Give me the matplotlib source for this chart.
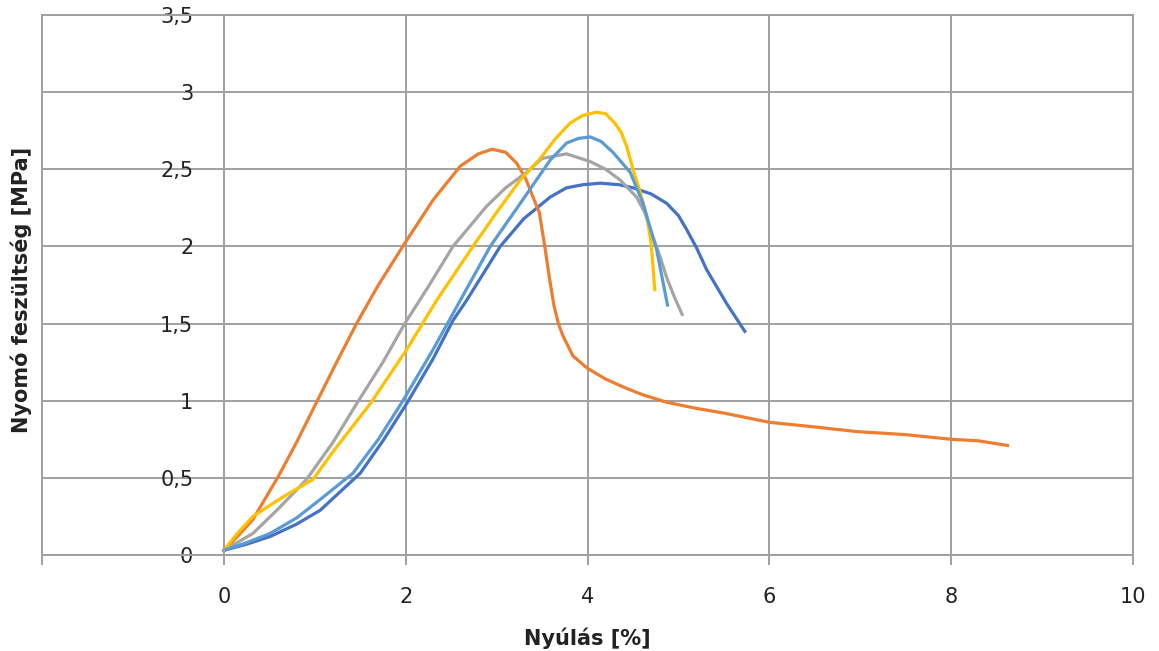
import matplotlib.pyplot as plt

# strain [%] / stress [MPa] curves
x_blue = [0, 0.25, 0.51, 0.8, 1.06, 1.5, 1.75, 2.01, 2.3, 2.52, 2.67, 3.04, 3.3, 3.59, 3.77,
          3.95, 4.14, 4.35, 4.5, 4.7, 4.87, 5.0, 5.09, 5.2, 5.31, 5.42, 5.53, 5.63, 5.73]
y_blue = [0.03, 0.07, 0.12, 0.20, 0.29, 0.53, 0.74, 0.98, 1.27, 1.52, 1.65, 2.0, 2.18, 2.32, 2.38,
          2.40, 2.41, 2.40, 2.38, 2.34, 2.28, 2.20, 2.11, 1.99, 1.85, 1.74, 1.63, 1.54, 1.45]

x_orange = [0, 0.15, 0.32, 0.6, 0.8, 1.02, 1.25, 1.46, 1.7, 1.99, 2.3, 2.6, 2.8, 2.95, 3.1, 3.22,
            3.32, 3.4, 3.47, 3.53, 3.58, 3.63, 3.68, 3.73, 3.84, 4.0, 4.2, 4.39, 4.6, 4.87, 5.2,
            5.5, 6.0, 6.5, 6.96, 7.5, 8.0, 8.3, 8.62]
y_orange = [0.03, 0.12, 0.23, 0.51, 0.73, 0.99, 1.26, 1.50, 1.75, 2.02, 2.30, 2.52, 2.60, 2.63, 2.61, 2.54,
            2.44, 2.32, 2.22, 2.00, 1.80, 1.62, 1.50, 1.42, 1.29, 1.21, 1.14, 1.09, 1.04, 0.99, 0.95,
            0.92, 0.86, 0.83, 0.80, 0.78, 0.75, 0.74, 0.71]

x_gray = [0, 0.32, 0.6, 0.91, 1.2, 1.46, 1.75, 1.99, 2.25, 2.52, 2.89, 3.1, 3.33, 3.5, 3.77,
          4.03, 4.2, 4.36, 4.54, 4.63, 4.72, 4.8, 4.87, 4.95, 5.04]
y_gray = [0.03, 0.14, 0.30, 0.49, 0.73, 0.98, 1.25, 1.50, 1.74, 2.0, 2.26, 2.38, 2.48, 2.57, 2.60,
          2.55, 2.50, 2.43, 2.32, 2.22, 2.06, 1.93, 1.80, 1.68, 1.56]

x_yellow = [0, 0.15, 0.32, 0.5, 0.69, 0.98, 1.24, 1.61, 2.01, 2.34, 2.74, 3.0, 3.26, 3.48, 3.65,
            3.81, 3.95, 4.1, 4.2, 4.3, 4.37, 4.43, 4.5, 4.58, 4.65, 4.7, 4.74]
y_yellow = [0.03, 0.14, 0.25, 0.32, 0.39, 0.49, 0.70, 0.98, 1.33, 1.65, 2.0, 2.22, 2.43, 2.57, 2.70,
            2.80, 2.85, 2.87, 2.86, 2.80, 2.74, 2.65, 2.50, 2.35, 2.20, 2.02, 1.72]

x_lblue = [0, 0.25, 0.51, 0.8, 1.06, 1.42, 1.7, 1.97, 2.3, 2.6, 2.93, 3.25, 3.59, 3.77, 3.9,
           4.03, 4.15, 4.28, 4.47, 4.61, 4.76, 4.88]
y_lblue = [0.03, 0.08, 0.14, 0.24, 0.36, 0.53, 0.75, 1.0, 1.33, 1.65, 2.0, 2.27, 2.56, 2.67, 2.70,
           2.71, 2.68, 2.61, 2.48, 2.28, 1.98, 1.62]

x_ticks = [-2, 0, 2, 4, 6, 8, 10]
x_labels = ["", "0", "2", "4", "6", "8", "10"]
y_ticks = [0, 0.5, 1, 1.5, 2, 2.5, 3, 3.5]
y_labels = ["0", "0,5", "1", "1,5", "2", "2,5", "3", "3,5"]

grid_c = "#a0a0a0"
text_c = "#222222"

fig = plt.figure(figsize=(11.59, 6.51), dpi=100)
ax = fig.add_axes([42 / 1159, 96 / 651, 1091 / 1159, 540 / 651])

ax.plot(x_blue, y_blue, color="#4472C4", lw=2.3)
ax.plot(x_orange, y_orange, color="#ED7D31", lw=2.3)
ax.plot(x_gray, y_gray, color="#A5A5A5", lw=2.3)
ax.plot(x_yellow, y_yellow, color="#FFC000", lw=2.3)
ax.plot(x_lblue, y_lblue, color="#5B9BD5", lw=2.3)

ax.set_xlim(-2, 10)
ax.set_ylim(0, 3.5)
ax.set_xticks(x_ticks, x_labels)
ax.set_yticks(y_ticks, y_labels)

ax.grid(True, color=grid_c, lw=1.4)
ax.set_axisbelow(True)
ax.axvline(-2, color=grid_c, lw=1.4, clip_on=False, zorder=0)

# y axis crosses at x = 0
ax.spines["left"].set_position(("data", 0))
for s in ax.spines.values():
    s.set_color(grid_c)
    s.set_linewidth(1.4)

ax.tick_params(axis="x", direction="out", length=7, width=1.4, color=grid_c,
               pad=16, labelsize=15, labelcolor=text_c)
ax.tick_params(axis="y", length=0, pad=22, labelsize=15, labelcolor=text_c)

fig.text(587 / 1159, 1 - 638 / 651, "Nyúlás [%]", ha="center", va="center",
         fontsize=15, fontweight="bold", color=text_c)
fig.text(21 / 1159, 1 - 290 / 651, "Nyomó feszültség [MPa]", ha="center", va="center",
         rotation=90, fontsize=15, fontweight="bold", color=text_c)

fig.savefig("out.png", dpi=100, facecolor="white")
